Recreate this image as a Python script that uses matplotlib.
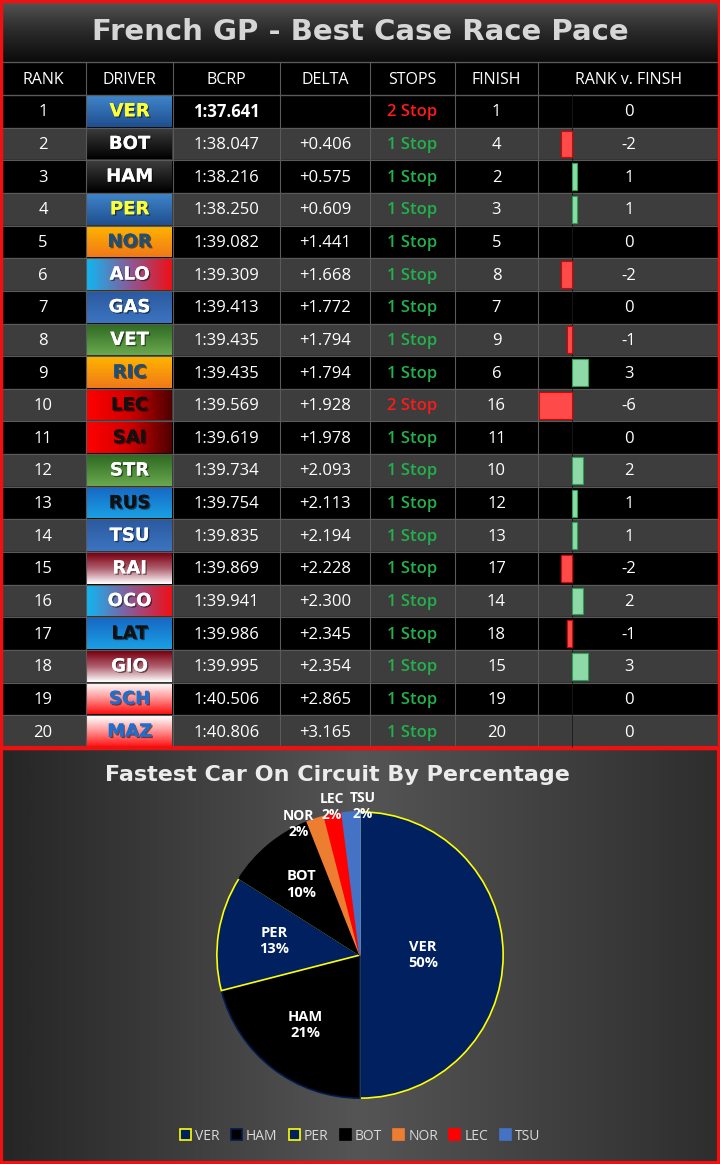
import numpy as np
import matplotlib
matplotlib.use("Agg")
import matplotlib.pyplot as plt
import matplotlib.patheffects as pe
from matplotlib.colors import LinearSegmentedColormap

# ---------------- data ----------------
ranks = list(range(1, 21))
drivers = ["VER","BOT","HAM","PER","NOR","ALO","GAS","VET","RIC","LEC",
           "SAI","STR","RUS","TSU","RAI","OCO","LAT","GIO","SCH","MAZ"]
bcrp = ["1:37.641","1:38.047","1:38.216","1:38.250","1:39.082","1:39.309","1:39.413",
        "1:39.435","1:39.435","1:39.569","1:39.619","1:39.734","1:39.754","1:39.835",
        "1:39.869","1:39.941","1:39.986","1:39.995","1:40.506","1:40.806"]
delta = ["","+0.406","+0.575","+0.609","+1.441","+1.668","+1.772","+1.794","+1.794",
         "+1.928","+1.978","+2.093","+2.113","+2.194","+2.228","+2.300","+2.345",
         "+2.354","+2.865","+3.165"]
stops = ["2 Stop","1 Stop","1 Stop","1 Stop","1 Stop","1 Stop","1 Stop","1 Stop","1 Stop",
         "2 Stop","1 Stop","1 Stop","1 Stop","1 Stop","1 Stop","1 Stop","1 Stop","1 Stop",
         "1 Stop","1 Stop"]
finish = [1,4,2,3,5,8,7,9,6,16,11,10,12,13,17,14,18,15,19,20]
rank_v_finish = [0,-2,1,1,0,-2,0,-1,3,-6,0,2,1,1,-2,2,-1,3,0,0]
headers = ["RANK","DRIVER","BCRP","DELTA","STOPS","FINISH","RANK v. FINSH"]

pie_labels = ["VER","HAM","PER","BOT","NOR","LEC","TSU"]
pie_values = [50,21,13,10,2,2,2]

# ---------------- styling ----------------
W, H = 720, 1164
col_x = [0, 86, 173, 280, 370, 455, 538, 720]
title_h = 62
head_top, head_bot = 62, 95
row_h = (748 - 95) / 20.0

team_style = {
    "VER": ("v", ["#3f84c9", "#1f4f8f"], "#ffff33"),
    "PER": ("v", ["#3f84c9", "#1f4f8f"], "#ffff33"),
    "BOT": ("v", ["#3c3c3c", "#000000"], "white"),
    "HAM": ("v", ["#3c3c3c", "#000000"], "white"),
    "NOR": ("v", ["#ffb400", "#f07818"], "#1f4e79"),
    "RIC": ("v", ["#ffb400", "#f07818"], "#1f4e79"),
    "ALO": ("h", ["#12b4f0", "#8a5a98", "#ee1018"], "white"),
    "OCO": ("h", ["#12b4f0", "#8a5a98", "#ee1018"], "white"),
    "GAS": ("v", ["#2b5aa0", "#3d74c0"], "white"),
    "TSU": ("v", ["#2b5aa0", "#3d74c0"], "white"),
    "VET": ("v", ["#2f6a22", "#6aa84f"], "white"),
    "STR": ("v", ["#2f6a22", "#6aa84f"], "white"),
    "LEC": ("h", ["#ff0000", "#d00000", "#500000"], "#111111"),
    "SAI": ("h", ["#ff0000", "#d00000", "#500000"], "#111111"),
    "RUS": ("v", ["#1768c4", "#1aa0e4"], "#111111"),
    "LAT": ("v", ["#1768c4", "#1aa0e4"], "#111111"),
    "RAI": ("v", ["#7a0010", "#b06070", "#ffffff"], "white"),
    "GIO": ("v", ["#7a0010", "#b06070", "#ffffff"], "white"),
    "SCH": ("v", ["#ffffff", "#ff9090", "#ff1010"], "#1f6fd0"),
    "MAZ": ("v", ["#ffffff", "#ff9090", "#ff1010"], "#1f6fd0"),
}

font = "Open Sans"
fig = plt.figure(figsize=(W / 100, H / 100), dpi=100)
fig.patch.set_facecolor("#000000")
ax = fig.add_axes([0, 0, 1, 1])
ax.set_xlim(0, W)
ax.set_ylim(H, 0)
ax.axis("off")

def grad(x0, x1, y0, y1, colors, direction="v", z=1):
    cmap = LinearSegmentedColormap.from_list("g", colors)
    g = np.linspace(0, 1, 64)
    img = g[:, None] if direction == "v" else g[None, :]
    ax.imshow(img, cmap=cmap, extent=(x0, x1, y1, y0), aspect="auto",
              interpolation="bicubic", zorder=z)

# title band
grad(0, W, 0, title_h, ["#555555", "#2a2a2a", "#0c0c0c"])
ax.text(W / 2, 32, "French GP - Best Case Race Pace", color="#d6d6d6",
        fontsize=21, fontweight="bold", ha="center", va="center",
        family="DejaVu Sans", zorder=5)

# header
ax.add_patch(plt.Rectangle((0, head_top), W, head_bot - head_top, color="black", zorder=1))
for i, h in enumerate(headers):
    ax.text((col_x[i] + col_x[i + 1]) / 2, (head_top + head_bot) / 2 + 1, h, color="white",
            fontsize=11.5, ha="center", va="center", family=font, zorder=5)

shadow = [pe.withSimplePatchShadow(offset=(1, -1), shadow_rgbFace="#000000", alpha=0.5), pe.Normal()]

# rows
for r in range(20):
    y0 = head_bot + r * row_h
    y1 = y0 + row_h
    yc = (y0 + y1) / 2 + 1
    bg = "#000000" if r % 2 == 0 else "#3d3d3d"
    ax.add_patch(plt.Rectangle((0, y0), W, row_h, color=bg, zorder=1))
    d = drivers[r]
    direc, cols, tc = team_style[d]
    grad(col_x[1] + 1, col_x[2] - 1, y0 + 1, y1 - 1, cols, direc, z=2)
    ax.text((col_x[1] + col_x[2]) / 2, yc - 1, d, color=tc, fontsize=13,
            fontweight="bold", ha="center", va="center", family="DejaVu Sans", zorder=5,
            path_effects=shadow)
    tkw = dict(fontsize=12, ha="center", va="center", family=font, zorder=5)
    ax.text((col_x[0] + col_x[1]) / 2, yc, str(ranks[r]), color="white", **tkw)
    ax.text((col_x[2] + col_x[3]) / 2, yc, bcrp[r], color="white",
            fontweight="bold" if r == 0 else "normal", **tkw)
    ax.text((col_x[3] + col_x[4]) / 2, yc, delta[r], color="white", **tkw)
    two = stops[r].startswith("2")
    ax.text((col_x[4] + col_x[5]) / 2, yc, stops[r],
            color="#ff1a1a" if two else "#22b14c", fontweight="semibold", **tkw)
    ax.text((col_x[5] + col_x[6]) / 2, yc, str(finish[r]), color="white", **tkw)
    ax.text(629, yc, str(rank_v_finish[r]), color="white", **tkw)
    ax.plot([0, W], [y1, y1], color="#5a5a5a", lw=0.8, zorder=3)

ax.plot([0, W], [head_top, head_top], color="#5a5a5a", lw=1, zorder=3)
ax.plot([0, W], [head_bot, head_bot], color="#5a5a5a", lw=1, zorder=3)
for x in col_x[1:-1]:
    ax.plot([x, x], [head_top, 748], color="#5a5a5a", lw=0.8, zorder=3)

# bar axes for rank v finish
bax = fig.add_axes([538 / W, 1 - 748 / H, (720 - 538) / W, (748 - head_bot) / H])
bax.set_xlim(-6.2, 27)
bax.set_ylim(20.5, 0.5)
bax.axis("off")
bax.patch.set_alpha(0)
vals = np.array(rank_v_finish)
bcol = ["#ff4a4a" if v < 0 else "#8fd9a8" for v in vals]
ecol = ["#e00000" if v < 0 else "#2aa050" for v in vals]
lws = [0.8 if v != 0 else 0 for v in vals]
bars = bax.barh(ranks, vals, height=0.82, color=bcol, edgecolor=ecol)
for b, lw in zip(bars, lws):
    b.set_linewidth(lw)
bax.axvline(0, color="#1a1a1a", lw=0.6, zorder=0)

# ---------------- pie section ----------------
grad(0, W, 748, H, ["#262626", "#555555", "#2e2e2e"], "h", z=1)
ax.text(337, 775, "Fastest Car On Circuit By Percentage", color="#ececec",
        fontsize=16, fontweight="bold", ha="center", va="center",
        family="DejaVu Sans", zorder=5)

pax = fig.add_axes([(360 - 146) / W, (1164 - 955 - 146) / H, 292 / W, 292 / H])
pax.patch.set_alpha(0)
pie_colors = ["#002060", "#000000", "#002060", "#000000", "#ed7d31", "#ff0000", "#4472c4"]
pie_edges = ["#ffff00", "#001a4d", "#ffff00", "#000000", "#ed7d31", "#ff0000", "#4472c4"]
wedges, _ = pax.pie(pie_values, colors=pie_colors, startangle=90, counterclock=False,
                    wedgeprops=dict(linewidth=1.2))
for w, ec in zip(wedges, pie_edges):
    w.set_edgecolor(ec)
label_r = [0.44, 0.62, 0.61, 0.64, 1.01, 1.05, 1.04]
label_dang = [0, 0, 0, 0, 7, 0, -4.6]
label_fs = [10.5, 10.5, 10.5, 10.5, 10, 10, 10]
for w, lab, v, rr, da, fs in zip(wedges, pie_labels, pie_values, label_r, label_dang, label_fs):
    ang = np.deg2rad((w.theta1 + w.theta2) / 2 + da)
    pax.text(rr * np.cos(ang), rr * np.sin(ang),
             f"{lab}\n{v}%", color="white", fontsize=fs, fontweight="bold",
             ha="center", va="center", family=font, linespacing=1.2)
pax.set_xlim(-1.02, 1.02)
pax.set_ylim(-1.02, 1.02)
pax.set_aspect("equal")

leg = fig.legend(wedges, pie_labels, loc="center", bbox_to_anchor=(0.5, 1 - 1136 / H),
                 ncol=7, frameon=False, fontsize=10, handlelength=0.8, handleheight=0.8,
                 columnspacing=0.8, handletextpad=0.3)
for t in leg.get_texts():
    t.set_color("#d9d9d9")
    t.set_family(font)

# red frames
ax.add_patch(plt.Rectangle((1, 1), W - 2, 747, fill=False, edgecolor="#ee1111", lw=2.5, zorder=6))
ax.add_patch(plt.Rectangle((1, 748), W - 2, H - 749, fill=False, edgecolor="#ee1111", lw=3, zorder=6))

fig.savefig("out.png", dpi=100, facecolor=fig.get_facecolor())
